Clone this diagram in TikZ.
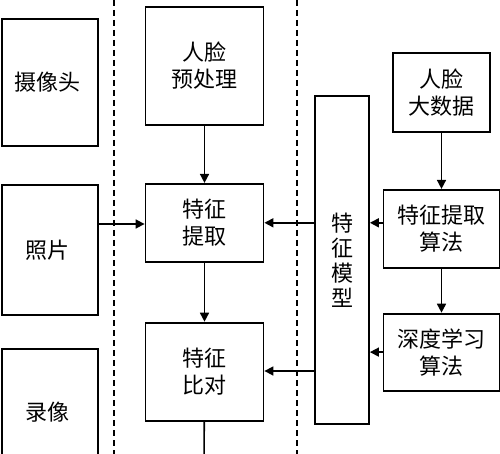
\documentclass[tikz,border=0pt]{standalone}
\usepackage{fontspec}
\newfontfamily\cjk{Noto Sans CJK SC}
\usepackage{tikz}
\usetikzlibrary{positioning,arrows.meta}
\tikzstyle{block}=[rectangle, draw=black, line width=1.8pt, text centered, align=center, inner sep=0pt, text=black, font=\cjk\fontsize{22}{27}\selectfont]
\tikzstyle{source}=[block, minimum width=96pt]
\tikzstyle{stage}=[block, minimum width=118pt]
\tikzstyle{algo}=[block, minimum width=116pt, minimum height=78pt]
\tikzstyle{flow}=[line width=1.6pt]
\tikzstyle{divider}=[line width=1.4pt, dash pattern=on 6pt off 4pt]
\tikzset{>={Triangle[length=9pt,width=9pt]}}

\begin{document}
\begin{tikzpicture}[x=1pt, y=1pt]
        \useasboundingbox (0,0) rectangle (500,-454);

        % input sources
        \node(camera)[source, minimum height=127pt] at (50,-82.5) {
            摄像头
        };
        \node(photo)[source, minimum height=130pt, below=37pt of camera] {
            照片
        };
        \node(video)[source, minimum height=127pt, below=32pt of photo] {
            录像
        };

        % recognition stages
        \node(preproc)[stage, minimum height=118pt] at (204.5,-66) {
            人脸\\预处理
        };
        \node(extract)[stage, minimum height=78pt, below=57pt of preproc] {
            特征\\提取
        };
        \node(compare)[stage, minimum height=98pt, below=59pt of extract] {
            特征\\比对
        };
        \coordinate(out) at (204,-470);

        \draw[->, flow] (preproc) -- (extract);
        \draw[->, flow] (extract) -- (compare);
        \draw[flow] (compare) -- (out);
        \draw[->, flow] (photo.east |- 0,-224) -- (extract.west |- 0,-224);

        % feature model
        \node(model)[block, minimum width=54pt, minimum height=328pt, font=\cjk\fontsize{22}{25}\selectfont] at (342,-260) {
            特\\征\\模\\型
        };

        \draw[->, flow] (model.west |- extract.east) -- (extract.east);
        \draw[->, flow] (model.west |- 0,-371) -- (compare.east |- 0,-371);

        % training side
        \node(bigdata)[block, minimum width=97pt, minimum height=79pt] at (441.5,-92.5) {
            人脸\\大数据
        };
        \node(extractalgo)[algo, below=56pt of bigdata] {
            特征提取\\算法
        };
        \node(deeplearn)[algo, minimum height=77pt, below=44pt of extractalgo] {
            深度学习\\算法
        };

        \draw[->, flow] (bigdata) -- (extractalgo);
        \draw[->, flow] (extractalgo) -- (deeplearn);
        \draw[->, flow] (extractalgo.west |- extract.east) -- (model.east |- extract.east);
        \draw[->, flow] (deeplearn.west) -- (deeplearn.west -| model.east);

        % dashed dividers
        \coordinate(d1top) at (114,0);
        \coordinate(d1bot) at (114,-454);
        \coordinate(d2top) at (297,0);
        \coordinate(d2bot) at (297,-454);
        \draw[divider] (d1top) -- (d1bot);
        \draw[divider] (d2top) -- (d2bot);
    \end{tikzpicture}
\end{document}
